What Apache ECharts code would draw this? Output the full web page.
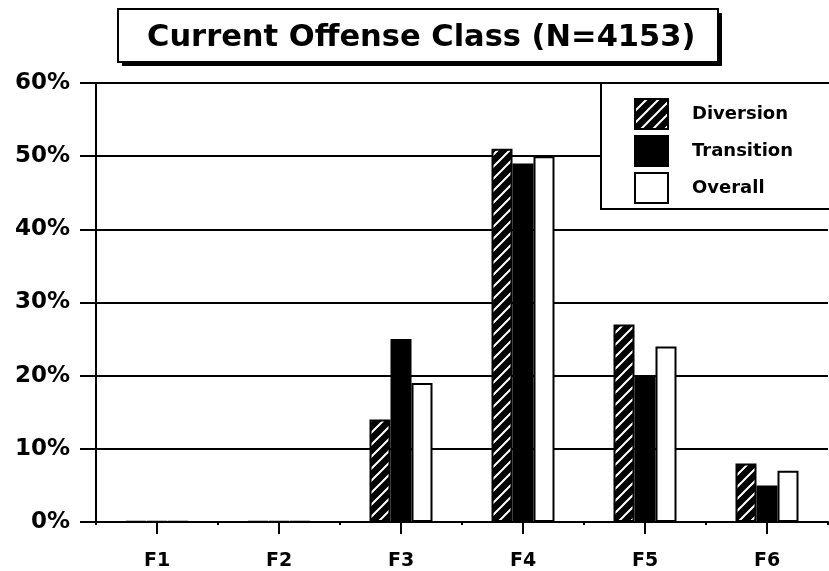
<!DOCTYPE html>
<html>
<head>
<meta charset="utf-8">
<script src="https://cdn.jsdelivr.net/npm/echarts@6/dist/echarts.min.js"></script>
<style>html,body{margin:0;padding:0;background:#fff;}#main{width:829px;height:571px;}</style>
</head>
<body>
<div id="main"></div>
<script>
const categories = ['F1', 'F2', 'F3', 'F4', 'F5', 'F6'];
const diversion = [0.1, 0.1, 14, 51, 27, 8];
const transition = [0.1, 0.1, 25, 49, 20, 5];
const overall = [0.1, 0.1, 19, 50, 24, 7];
const seriesNames = ['Diversion', 'Transition', 'Overall'];
const titleText = 'Current Offense Class (N=4153)';

const FONT = '"DejaVu Sans", sans-serif';

// hatch pattern for Diversion
const pc = document.createElement('canvas');
pc.width = 12; pc.height = 12;
const g = pc.getContext('2d');
g.fillStyle = '#000'; g.fillRect(0, 0, 12, 12);
g.strokeStyle = '#fff'; g.lineWidth = 2;
g.beginPath();
g.moveTo(-3, 15); g.lineTo(15, -3);
g.moveTo(-9, 9); g.lineTo(9, -9);
g.moveTo(3, 21); g.lineTo(21, 3);
g.stroke();
const hatch = { image: pc, repeat: 'repeat' };

const chart = echarts.init(document.getElementById('main'), null, { renderer: 'canvas' });
const barBase = { type: 'bar', barWidth: 21, barGap: '0%', xAxisIndex: 0 };
chart.setOption({
  animation: false,
  backgroundColor: '#fff',
  title: {
    text: titleText,
    left: 142, top: 18,
    z: 10,
    textStyle: { fontFamily: FONT, fontWeight: 'bold', fontSize: 30.5, color: '#000' }
  },
  graphic: [
    { type: 'rect', z: 8, shape: { x: 122, y: 13, width: 600, height: 53 }, style: { fill: '#000' } },
    { type: 'rect', z: 9, shape: { x: 118, y: 9, width: 600, height: 53 }, style: { fill: '#fff', stroke: '#000', lineWidth: 2 } },
    { type: 'rect', z: 3, shape: { x: 601, y: 83, width: 240, height: 126 }, style: { fill: '#fff', stroke: '#000', lineWidth: 2 } }
  ],
  legend: {
    data: seriesNames,
    orient: 'vertical',
    left: 629, top: 93,
    itemWidth: 33, itemHeight: 30, itemGap: 5,
    icon: 'rect',
    z: 6,
    textStyle: { fontFamily: FONT, fontWeight: 'bold', fontSize: 18, color: '#000', padding: [0, 0, 0, 19] }
  },
  grid: { left: 96, right: 1, top: 83, bottom: 49, containLabel: false },
  xAxis: [
    {
      type: 'category', data: categories, position: 'bottom',
      axisLine: { lineStyle: { color: '#000', width: 2 } },
      axisTick: { show: true, alignWithLabel: true, length: 12, lineStyle: { color: '#000', width: 2 } },
      axisLabel: { margin: 30, fontFamily: FONT, fontWeight: 'bold', fontSize: 19, color: '#000' },
      splitLine: { show: false }
    },
    {
      type: 'category', data: categories, position: 'bottom',
      axisLine: { show: false },
      axisTick: { show: true, alignWithLabel: false, length: 3, lineStyle: { color: '#000', width: 2 } },
      axisLabel: { show: false },
      splitLine: { show: false }
    }
  ],
  yAxis: {
    type: 'value', min: 0, max: 60, interval: 10,
    axisLine: { show: true, lineStyle: { color: '#000', width: 2 } },
    axisTick: { show: true, length: 16, lineStyle: { color: '#000', width: 2 } },
    axisLabel: { formatter: '{value}%', margin: 26, fontFamily: FONT, fontWeight: 'bold', fontSize: 23, color: '#000' },
    splitLine: { show: true, lineStyle: { color: '#000', width: 2 } }
  },
  series: [
    Object.assign({}, barBase, { name: seriesNames[0], data: diversion, itemStyle: { color: hatch, borderColor: '#000', borderWidth: 2 } }),
    Object.assign({}, barBase, { name: seriesNames[1], data: transition, itemStyle: { color: '#000', borderColor: '#000', borderWidth: 2 } }),
    Object.assign({}, barBase, { name: seriesNames[2], data: overall, itemStyle: { color: '#fff', borderColor: '#000', borderWidth: 2 } })
  ]
});
</script>
</body>
</html>
